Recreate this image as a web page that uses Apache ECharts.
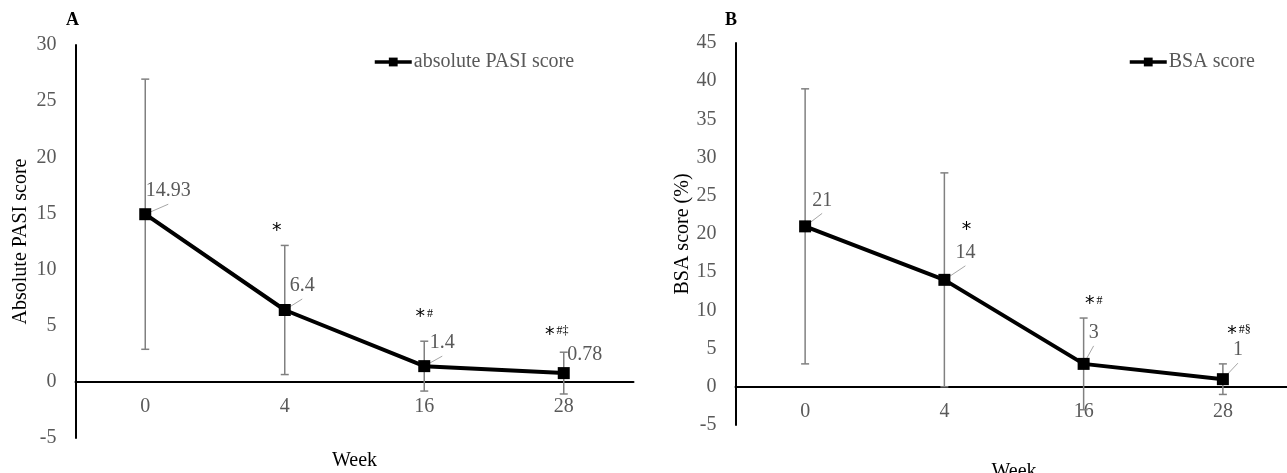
<!DOCTYPE html>
<html>
<head>
<meta charset="utf-8">
<script src="https://cdn.jsdelivr.net/npm/echarts@6/dist/echarts.min.js"></script>
<style>
  html, body { margin: 0; padding: 0; background: #fff; }
  #chart { width: 1287px; height: 473px; }
</style>
</head>
<body>
<div id="chart"></div>
<script>
// ---- data ----
const weeks = ['0', '4', '16', '28'];
const pasiMean = [14.93, 6.4, 1.4, 0.78];
const pasiSD = [12.03, 5.75, 2.22, 1.86];
const pasiSig = ['', '*', '*#', '*#‡'];
const pasiSigY = [null, 13.8, 6.1, 4.5];
const bsaMean = [21, 14, 3, 1];
const bsaSD = [18, 14, 6, 2];
const bsaSig = ['', '*', '*#', '*#§'];
const bsaSigY = [null, 21.0, 11.3, 7.4];
const pasiTicks = { min: -5, max: 30, interval: 5 };
const bsaTicks = { min: -5, max: 45, interval: 5 };

// ---- styles / layout ----
const FONT = "'Liberation Serif', 'Times New Roman', serif";
const GRAY = '#595959';
const gridA = { left: 75.5, top: 45, width: 558, height: 393 };
const gridB = { left: 735.5, top: 43, width: 557, height: 382 };
const pasiLabelOff = [[23, -23, true], [17.5, -24, true], [18, -23, true], [21, -18, false]];
const bsaLabelOff = [[17, -26, true], [21, -27, true], [10, -31, true], [15, -29, true]];
const pasiSigDx = [0, -7, 0, -7];
const bsaSigDx = [0, 23, 10, 16];

function errorBars(gi, means, sds) {
  return {
    type: 'custom', xAxisIndex: gi, yAxisIndex: gi, z: 2, silent: true,
    data: means.map((m, i) => [i, m + sds[i], m - sds[i]]),
    renderItem: function (params, api) {
      const top = api.coord([api.value(0), api.value(1)]);
      const bot = api.coord([api.value(0), api.value(2)]);
      const st = { stroke: '#808080', lineWidth: 1.5 };
      const w = 4;
      return { type: 'group', children: [
        { type: 'line', shape: { x1: top[0], y1: top[1], x2: bot[0], y2: bot[1] }, style: st },
        { type: 'line', shape: { x1: top[0] - w, y1: top[1], x2: top[0] + w, y2: top[1] }, style: st },
        { type: 'line', shape: { x1: bot[0] - w, y1: bot[1], x2: bot[0] + w, y2: bot[1] }, style: st }
      ]};
    }
  };
}

function valueLabels(gi, means, offs) {
  return {
    type: 'custom', xAxisIndex: gi, yAxisIndex: gi, z: 1, silent: true,
    data: means.map((m, i) => [i, m]),
    renderItem: function (params, api) {
      const p = api.coord([api.value(0), api.value(1)]);
      const o = offs[params.dataIndex];
      const cx = p[0] + o[0], cy = p[1] + o[1];
      const children = [];
      if (o[2]) {
        children.push({ type: 'line', shape: { x1: p[0], y1: p[1], x2: cx, y2: cy + 13 },
          style: { stroke: '#a6a6a6', lineWidth: 1 } });
      }
      children.push({ type: 'text', x: cx, y: cy, style: {
        text: String(means[params.dataIndex]), fill: GRAY, font: '20px ' + FONT,
        align: 'center', verticalAlign: 'middle' } });
      return { type: 'group', children: children };
    }
  };
}

function sigMarks(gi, texts, ys, dxs) {
  const idx = [];
  texts.forEach((t, i) => { if (t) idx.push(i); });
  return {
    type: 'custom', xAxisIndex: gi, yAxisIndex: gi, z: 4, silent: true,
    data: idx.map(i => [i, ys[i]]),
    renderItem: function (params, api) {
      const i = api.value(0);
      const p = api.coord([i, api.value(1)]);
      const t = texts[i];
      const rich = '{a|' + t.charAt(0) + '}' + (t.length > 1 ? '{b|' + t.slice(1) + '}' : '');
      return { type: 'text', x: p[0] + dxs[i], y: p[1], style: {
        text: rich, align: 'center', verticalAlign: 'middle',
        rich: {
          a: { fontSize: 19, fontFamily: 'DejaVu Sans', fill: '#000', color: '#000', padding: [8, 2, 0, 0] },
          b: { fontSize: 12, fontFamily: FONT, fill: '#000', color: '#000' }
        } } };
    }
  };
}

function mainLine(gi, name, means) {
  return {
    type: 'line', name: name, xAxisIndex: gi, yAxisIndex: gi, z: 3,
    data: means, symbol: 'rect', symbolSize: 12,
    lineStyle: { color: '#000', width: 4 },
    itemStyle: { color: '#000' },
    label: { show: false }, animation: false
  };
}

function xAx(gi, grid, ticks, gap) {
  // place the category axis at y = 0 of the value axis
  const zeroFromBottom = grid.height * (0 - ticks.min) / (ticks.max - ticks.min);
  return {
    type: 'category', gridIndex: gi, data: weeks, boundaryGap: true,
    position: 'bottom', offset: -zeroFromBottom,
    axisLine: { onZero: false, lineStyle: { color: '#000', width: 2 } },
    axisTick: { show: false },
    axisLabel: { color: GRAY, fontSize: 20, fontFamily: FONT, margin: 15 },
    splitLine: { show: false },
    name: 'Week', nameLocation: 'middle', nameGap: gap,
    nameTextStyle: { color: '#000', fontSize: 20, fontFamily: FONT, verticalAlign: 'top' }
  };
}

function yAx(gi, ticks, name, gap) {
  return {
    type: 'value', gridIndex: gi, min: ticks.min, max: ticks.max, interval: ticks.interval,
    axisLine: { show: true, lineStyle: { color: '#000', width: 2 } },
    axisTick: { show: false },
    splitLine: { show: false },
    axisLabel: { color: GRAY, fontSize: 20, fontFamily: FONT, margin: 19 },
    name: name, nameLocation: 'middle', nameGap: gap, nameRotate: 90,
    nameTextStyle: { color: '#000', fontSize: 20, fontFamily: FONT }
  };
}

const chart = echarts.init(document.getElementById('chart'), null, { renderer: 'canvas' });
chart.setOption({
  animation: false,
  backgroundColor: '#fff',
  grid: [
    Object.assign({ containLabel: false, outerBoundsMode: 'none' }, gridA),
    Object.assign({ containLabel: false, outerBoundsMode: 'none' }, gridB)
  ],
  xAxis: [xAx(0, gridA, pasiTicks, 69), xAx(1, gridB, bsaTicks, 75)],
  yAxis: [yAx(0, pasiTicks, 'Absolute PASI score', 45), yAx(1, bsaTicks, 'BSA score (%)', 43)],
  legend: [
    { data: ['absolute PASI score'], left: 368, top: 47, itemWidth: 37, itemHeight: 11, itemGap: 0,
      lineStyle: { width: 3.5 },
      textStyle: { color: GRAY, fontSize: 20, fontFamily: FONT, padding: [0, 0, 0, -3] } },
    { data: ['BSA score'], left: 1123, top: 47, itemWidth: 37, itemHeight: 11, itemGap: 0,
      lineStyle: { width: 3.5 },
      textStyle: { color: GRAY, fontSize: 20, fontFamily: FONT, padding: [0, 0, 0, -3] } }
  ],
  graphic: [
    { type: 'text', left: 66, top: 11, style: { text: 'A', font: 'bold 18px ' + FONT, fill: '#000' } },
    { type: 'text', left: 725, top: 11, style: { text: 'B', font: 'bold 18px ' + FONT, fill: '#000' } }
  ],
  series: [
    errorBars(0, pasiMean, pasiSD),
    valueLabels(0, pasiMean, pasiLabelOff),
    mainLine(0, 'absolute PASI score', pasiMean),
    sigMarks(0, pasiSig, pasiSigY, pasiSigDx),
    errorBars(1, bsaMean, bsaSD),
    valueLabels(1, bsaMean, bsaLabelOff),
    mainLine(1, 'BSA score', bsaMean),
    sigMarks(1, bsaSig, bsaSigY, bsaSigDx)
  ]
});
</script>
</body>
</html>
